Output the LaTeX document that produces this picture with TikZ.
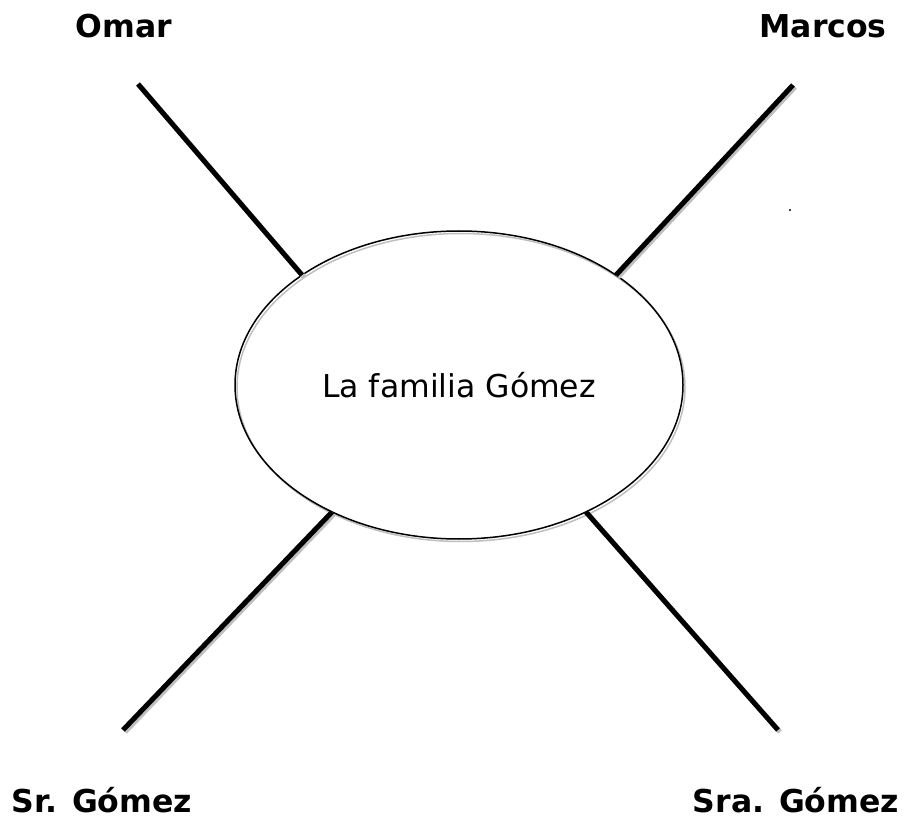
\documentclass[tikz,border=0pt]{standalone}
\usepackage{fontspec}
\setmainfont{DejaVu Sans}
\usetikzlibrary{shapes.geometric}

\tikzset{
	famstroke/.style={line width=5pt, black},
	famshadow/.style={line width=5pt, black!25},
	famname/.style={font=\fontsize{31.5}{36}\selectfont\bfseries, anchor=base, inner sep=0pt},
}

\newcommand{\famline}[2]{
	\draw[famshadow] ([shift={(2,2)}]#1) -- ([shift={(2,2)}]#2);
	\draw[famstroke] (#1) -- (#2);
}

\begin{document}
\begin{tikzpicture}[x=1pt, y=-1pt]
\useasboundingbox (0,0) rectangle (906,821);

\pgfmathsetmacro{\famX}{459}
\pgfmathsetmacro{\famY}{385}

\draw[black!25, line width=1.5pt] (\famX+2, \famY+2.5) ellipse [x radius=224, y radius=154];
\node[ellipse, draw, line width=1.5pt, minimum width=448pt, minimum height=308pt, inner sep=0pt, outer sep=0pt,
	font=\fontsize{31.5}{36}\selectfont] (fam) at (\famX, \famY) {La familia Gómez};

\node[famname] (omar) at (124,38) {Omar};
\node[famname] (marcos) at (823,38) {Marcos};
\node[famname] (sr) at (102,812) {Sr. Gómez};
\node[famname] (sra) at (796,812) {Sra. Gómez};

\coordinate (omarend) at (138,84);
\coordinate (marcosend) at (793,85);
\coordinate (srend) at (123,730);
\coordinate (sraend) at (778,730);

\famline{omarend}{fam.145}
\famline{marcosend}{fam.35}
\famline{srend}{fam.225}
\famline{sraend}{fam.315}

\fill (790,210) circle (1.1);
\end{tikzpicture}
\end{document}
